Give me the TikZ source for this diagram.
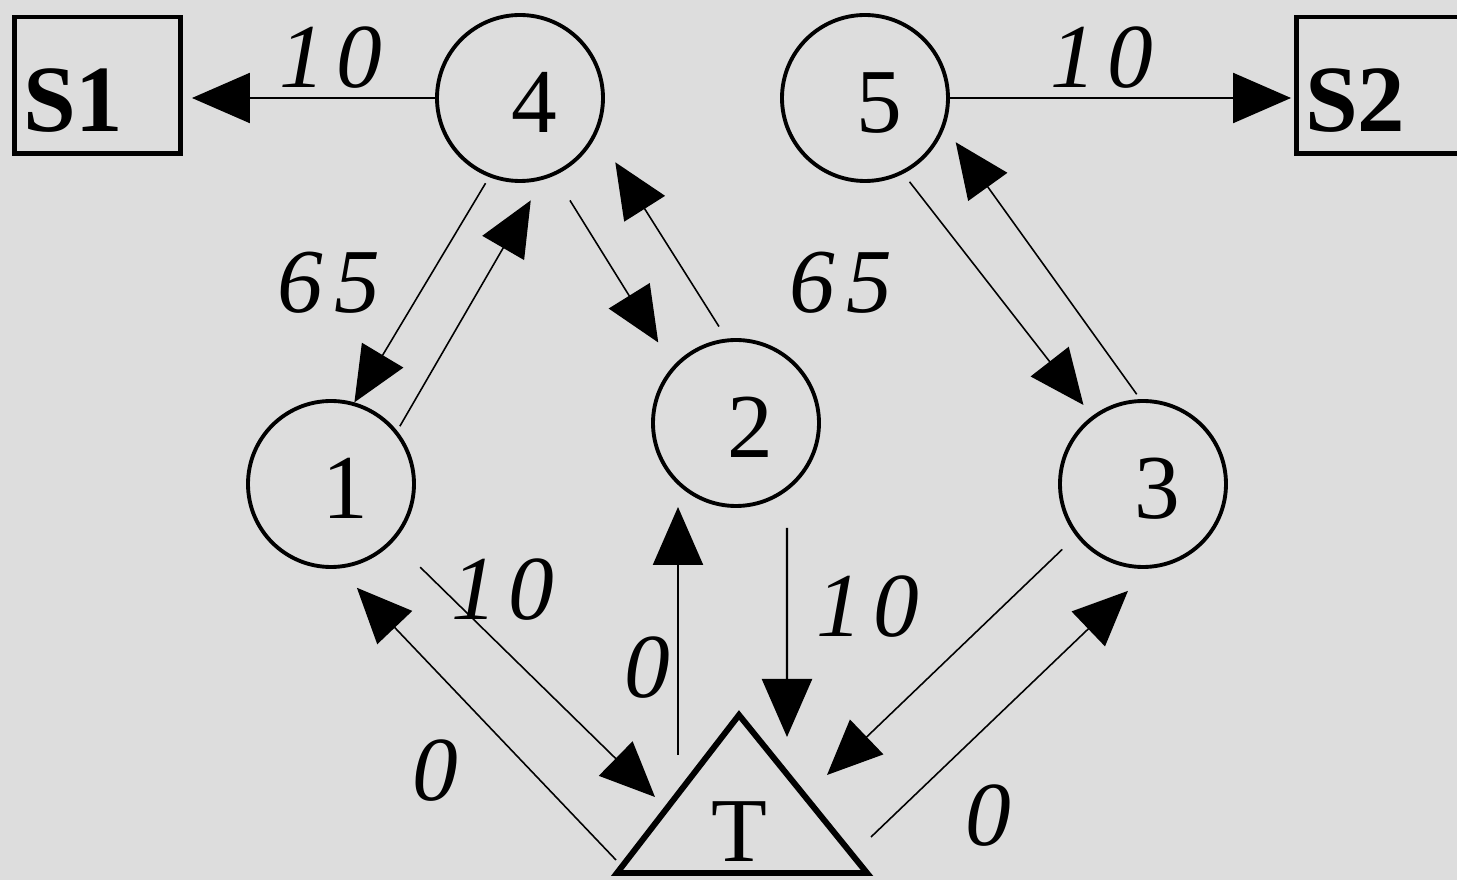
\documentclass[tikz,border=0pt]{standalone}
\usepackage{fontspec}
\setmainfont{Liberation Serif}
\newfontfamily\labfont[LetterSpace=12]{Liberation Serif}
\usetikzlibrary{arrows.meta}
\definecolor{bgcol}{RGB}{221,221,221}
\begin{document}
\begin{tikzpicture}[x=1cm,y=1cm,
  circ/.style={circle, draw, line width=1.1pt, minimum size=1.66cm, inner sep=0pt,
    text height=0.70cm, text depth=0pt, font=\fontsize{26}{30}\selectfont},
  sbox/.style={rectangle, draw, line width=1.4pt, inner xsep=0.085cm, inner ysep=0pt,
    text width=1.49cm, align=left, text height=1.15cm, text depth=0.215cm,
    font=\fontsize{27}{30}\selectfont\bfseries},
  thinconn/.style={line width=0.45pt, -{Triangle[length=0.55cm,width=0.48cm]}},
  thickconn/.style={line width=0.65pt, -{Triangle[length=0.58cm,width=0.5cm]}},
  lab/.style={font=\labfont\fontsize{26}{30}\selectfont\itshape, inner sep=0pt},
  tri/.style={line width=1.7pt, line join=miter}
]
\fill[bgcol] (0,0) rectangle (14.57,8.80);
\useasboundingbox (0,0) rectangle (14.57,8.80);

% boxes
\node[sbox] (S1) at (0.975,7.9475) {S1};
\node[sbox] (S2) at (13.795,7.9475) {S2};

% circles
\node[circ] (n4) at (5.20,7.82) {\hspace*{0.28cm}4};
\node[circ] (n5) at (8.65,7.82) {\hspace*{0.28cm}5};
\node[circ] (n1) at (3.31,3.96) {\hspace*{0.28cm}1};
\node[circ] (n2) at (7.36,4.57) {\hspace*{0.28cm}2};
\node[circ] (n3) at (11.43,3.96) {\hspace*{0.28cm}3};

% triangle T
\coordinate (Ta) at (7.39,1.65);
\coordinate (Tl) at (6.17,0.07);
\coordinate (Tr) at (8.67,0.07);
\draw[tri] (Ta) -- (Tl) -- (Tr) -- cycle;
\node[font=\fontsize{26}{30}\selectfont, inner sep=0pt] (T) at (7.39,0.48) {T};

% horizontal connectors
\draw[thickconn, shorten >=0.09cm] (n4.west) -- (n4.west -| S1.east);
\draw[thickconn, shorten >=0.03cm] (n5.east) -- (n5.east -| S2.west);

% 4 <-> 1, 4 <-> 2, 5 <-> 3
\draw[thinconn] ([shift={(248:0.07)}]n4.248) -- (n1.74);
\draw[thinconn] ([shift={(40:0.05)}]n1.40) -- ([shift={(276:0.18)}]n4.276);
\draw[thinconn] ([shift={(296:0.29)}]n4.296) -- ([shift={(134:0.27)}]n2.134);
\draw[thinconn] ([shift={(100:0.13)}]n2.100) -- ([shift={(326:0.30)}]n4.326);
\draw[thinconn] ([shift={(298:0.10)}]n5.298) -- ([shift={(127:0.14)}]n3.127);
\draw[thinconn] ([shift={(94:0.05)}]n3.94) -- ([shift={(334:0.16)}]n5.334);

% connectors with T
\draw[thinconn] ([shift={(317:0.37)}]n1.317) -- ([shift={(-0.84,0.35)}]T.center);
\draw[thinconn] ([shift={(-1.23,-0.28)}]T.center) -- ([shift={(284:0.22)}]n1.284);
\draw[thickconn] ([shift={(-0.61,0.77)}]T.center) -- ([shift={(-0.58,-0.84)}]n2.center);
\draw[thickconn] ([shift={(0.51,-1.05)}]n2.center) -- ([shift={(0.48,0.95)}]T.center);
\draw[thinconn] ([shift={(219:0.19)}]n3.219) -- ([shift={(0.88,0.57)}]T.center);
\draw[thinconn] ([shift={(1.32,-0.05)}]T.center) -- ([shift={(262:0.23)}]n3.262);

% labels
\node[lab] (l41) at (3.31,8.22) {10};
\node[lab] (l52) at (11.02,8.22) {10};
\node[lab] (l65a) at (3.29,5.97) {65};
\node[lab] (l65b) at (8.41,5.97) {65};
\node[lab] (l1T) at (5.03,2.90) {10};
\node[lab] (lT2) at (6.47,2.12) {0};
\node[lab] (l2T) at (8.68,2.73) {10};
\node[lab] (lT1) at (4.35,1.09) {0};
\node[lab] (lT3) at (9.88,0.64) {0};
\end{tikzpicture}
\end{document}
